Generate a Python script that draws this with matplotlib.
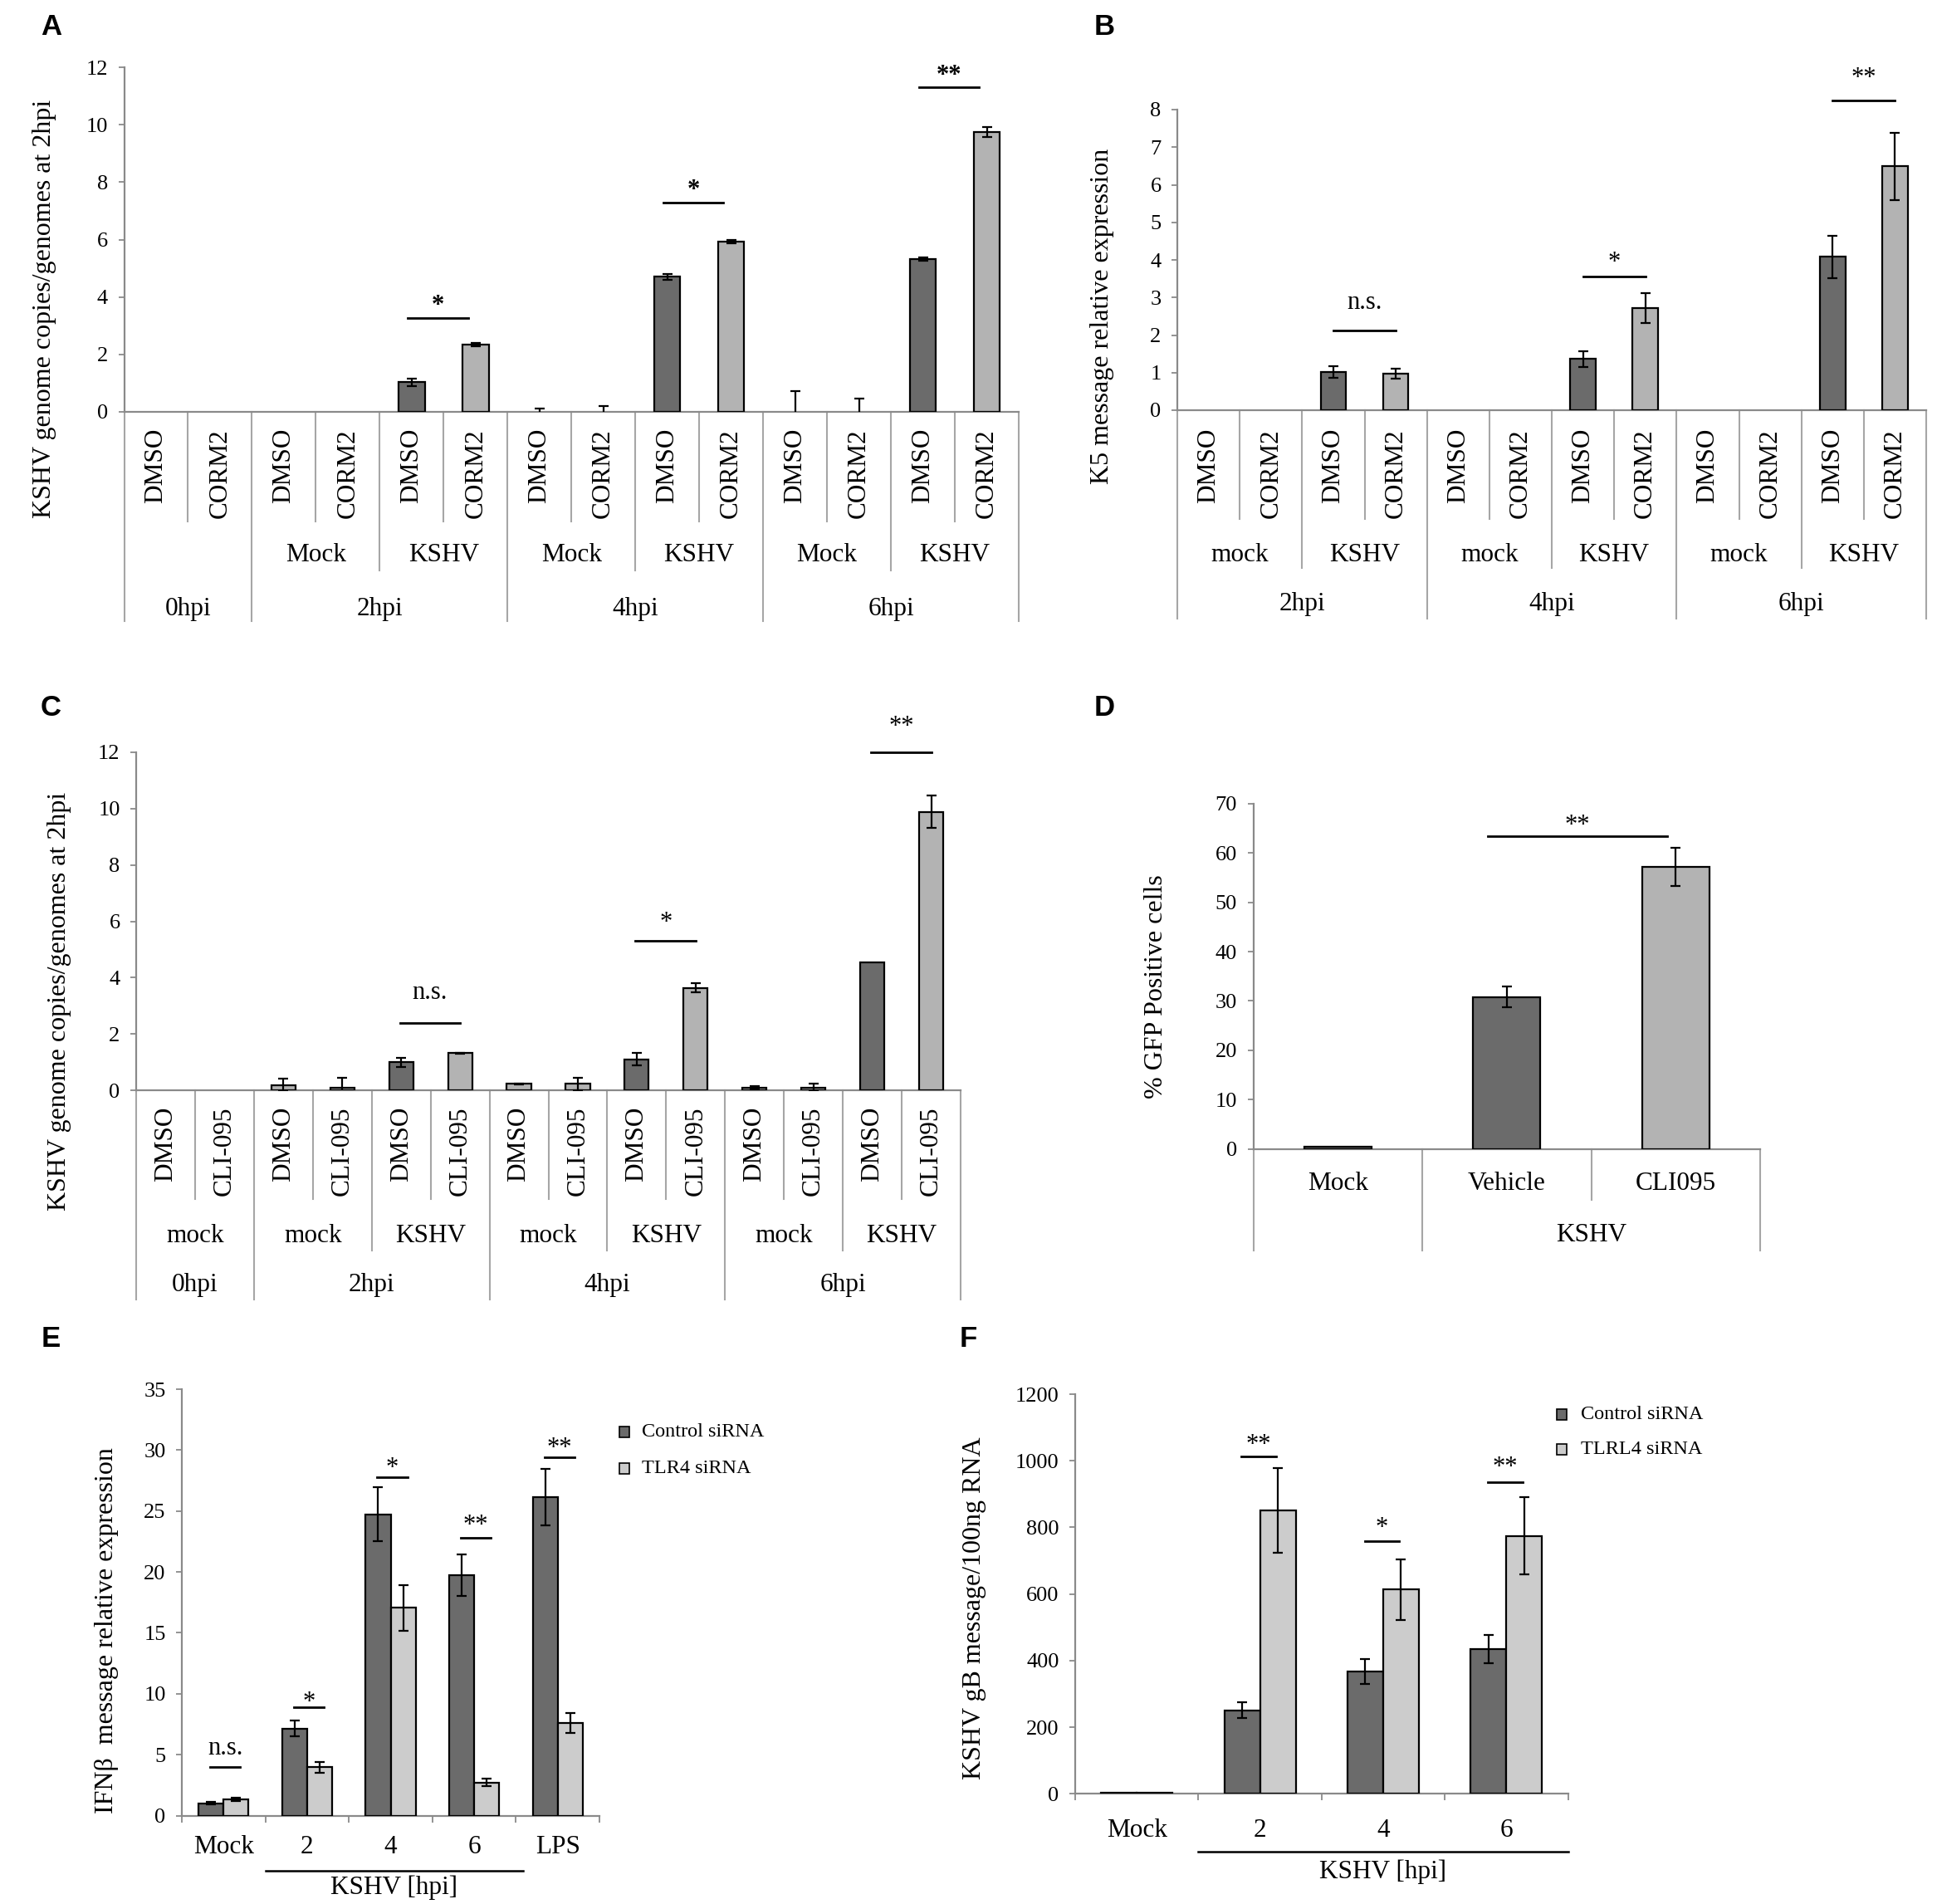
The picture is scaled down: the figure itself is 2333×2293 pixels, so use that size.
import matplotlib
matplotlib.use("Agg")
import matplotlib.pyplot as plt
from matplotlib.patches import Rectangle
import numpy as np

plt.rcParams['font.family'] = ['Liberation Serif', 'DejaVu Serif']

# ---------------- data ----------------
# Panel A
a_level1 = ['DMSO', 'CORM2'] * 7
a_level2 = [('', 2), ('Mock', 2), ('KSHV', 2), ('Mock', 2), ('KSHV', 2), ('Mock', 2), ('KSHV', 2)]
a_level3 = [('0hpi', 2), ('2hpi', 4), ('4hpi', 4), ('6hpi', 4)]
a_values = [0, 0, 0, 0, 1.03, 2.34, 0, 0, 4.70, 5.92, 0, 0, 5.32, 9.74]
a_errors = [0, 0, 0, 0, 0.12, 0.05, 0.11, 0.21, 0.10, 0.06, 0.73, 0.46, 0.05, 0.18]
a_sig_index = [4, 8, 12]
a_sig_y = [3.28, 7.29, 11.30]
a_sig_text = ['*', '*', '**']

# Panel B
b_level1 = ['DMSO', 'CORM2'] * 6
b_level2 = [('mock', 2), ('KSHV', 2)] * 3
b_level3 = [('2hpi', 4), ('4hpi', 4), ('6hpi', 4)]
b_values = [0, 0, 1.02, 0.98, 0, 0, 1.37, 2.71, 0, 0, 4.08, 6.49]
b_errors = [0, 0, 0.15, 0.13, 0, 0, 0.21, 0.40, 0, 0, 0.56, 0.90]
b_sig_index = [2, 6, 10]
b_sig_y = [2.13, 3.55, 8.25]
b_sig_text = ['n.s.', '*', '**']

# Panel C
c_level1 = ['DMSO', 'CLI-095'] * 7
c_level2 = [('mock', 2), ('mock', 2), ('KSHV', 2), ('mock', 2), ('KSHV', 2), ('mock', 2), ('KSHV', 2)]
c_level3 = [('0hpi', 2), ('2hpi', 4), ('4hpi', 4), ('6hpi', 4)]
c_values = [0, 0, 0.19, 0.09, 0.99, 1.32, 0.23, 0.23, 1.10, 3.64, 0.10, 0.10, 4.54, 9.89]
c_errors = [0, 0, 0.21, 0.36, 0.17, 0.02, 0.02, 0.22, 0.23, 0.15, 0.06, 0.13, 0, 0.57]
c_infected = [False, False, False, False, True, True, False, False, True, True, False, False, True, True]
c_sig_index = [4, 8, 12]
c_sig_y = [2.40, 5.31, 12.0]
c_sig_text = ['n.s.', '*', '**']

# Panel D
d_level1 = ['Mock', 'Vehicle', 'CLI095']
d_level2 = [('', 1), ('KSHV', 2)]
d_values = [0.42, 30.8, 57.2]
d_errors = [0, 2.1, 3.9]
d_sig_index = [1]
d_sig_y = [63.5]
d_sig_text = ['**']

# Panel E
e_categories = ['Mock', '2', '4', '6', 'LPS']
e_series = ['Control siRNA', 'TLR4 siRNA']
e_control = [1.00, 7.13, 24.73, 19.71, 26.16]
e_control_err = [0.10, 0.65, 2.20, 1.70, 2.33]
e_tlr4 = [1.31, 3.96, 17.04, 2.71, 7.60]
e_tlr4_err = [0.15, 0.42, 1.88, 0.30, 0.81]
e_sig_y = [3.96, 8.88, 27.8, 22.8, 29.4]
e_sig_text = ['n.s.', '*', '*', '**', '**']

# Panel F
f_categories = ['Mock', '2', '4', '6']
f_series = ['Control siRNA', 'TLRL4 siRNA']
f_control = [3, 251, 367, 435]
f_control_err = [0, 23, 38, 43]
f_tlr4 = [3, 851, 613, 774]
f_tlr4_err = [0, 128, 92, 116]
f_sig_index = [1, 2, 3]
f_sig_y = [1013, 758, 936]
f_sig_text = ['**', '*', '**']

# ---------------- style ----------------
W, H = 2333, 2293
DARK = '#6b6b6b'
LIGHT = '#b3b3b3'
LIGHT2 = '#cccccc'
AXC = '#8a8a8a'
CATC = '#a6a6a6'
TICK_FS = 19
CAT_FS = 22.5
LAB_FS = 23
SIG_FS = 22

fig = plt.figure(figsize=(W / 100, H / 100), dpi=100)


def make_ax(l, t, r, b):
    return fig.add_axes([l / W, 1 - b / H, (r - l) / W, (b - t) / H])


def frac(ax, px):
    return -px / (ax.get_position().height * H)


def style(ax, ymax, step):
    for s in ['top', 'right']:
        ax.spines[s].set_visible(False)
    for s in ['left', 'bottom']:
        ax.spines[s].set_color(AXC)
        ax.spines[s].set_linewidth(1.6)
    ax.set_ylim(0, ymax)
    ax.set_yticks(np.arange(0, ymax + step / 2, step))
    ax.tick_params(axis='y', direction='out', length=5, width=1.3, color=AXC,
                   labelsize=TICK_FS, pad=9)


def bars(ax, x, vals, errs, colors, width):
    lw = [1.6 if v > 0 else 0 for v in vals]
    ax.bar(x, vals, width=width, color=colors, edgecolor='black', linewidth=lw, zorder=3)
    xe = [xx for xx, e in zip(x, errs) if e > 0]
    ve = [v for v, e in zip(vals, errs) if e > 0]
    ee = [e for e in errs if e > 0]
    if ee:
        ax.errorbar(xe, ve, yerr=ee, fmt='none', ecolor='black', elinewidth=1.6,
                    capsize=4.5, capthick=1.6, zorder=4)


def sig(ax, x1, x2, y, s, gap_px, weight='normal'):
    ax.plot([x1, x2], [y, y], color='black', lw=2.0, clip_on=False, zorder=5)
    off = gap_px - (9 if s.startswith('*') else 0)
    ax.annotate(s, xy=((x1 + x2) / 2, y), xytext=(0, off * 0.72),
                textcoords='offset points', ha='center', va='center',
                fontsize=SIG_FS, weight=weight, annotation_clip=False)


def multicat(ax, l1, levels, rot1, d1, t1):
    """levels: list of (groups, depth_px, label_center_px) from inner to outer"""
    n = len(l1)
    ax.set_xlim(-0.5, n - 0.5)
    ax.set_xticks([])
    tr = ax.get_xaxis_transform()
    bset = []
    for groups, depth, _ in levels:
        cum = np.cumsum([0] + [g[1] for g in groups])
        bset.append((set(cum.tolist()), depth))
    for b in range(n + 1):
        depth = d1
        for s, dpt in bset:
            if b in s:
                depth = dpt
        ax.plot([b - 0.5, b - 0.5], [0, frac(ax, depth)], transform=tr,
                clip_on=False, color=CATC, lw=1.5)
    for i, lab in enumerate(l1):
        if rot1:
            ax.text(i, frac(ax, t1), lab, transform=tr, rotation=90, ha='center',
                    va='top', fontsize=CAT_FS)
        else:
            ax.text(i, frac(ax, t1), lab, transform=tr, ha='center', va='center',
                    fontsize=CAT_FS)
    for groups, depth, yc in levels:
        start = 0
        for lab, cnt in groups:
            if lab:
                ax.text(start + (cnt - 1) / 2, frac(ax, yc), lab, transform=tr,
                        ha='center', va='center', fontsize=CAT_FS)
            start += cnt


def ylabel(x, y, s):
    fig.text(x / W, 1 - y / H, s, rotation=90, ha='center', va='center', fontsize=LAB_FS)


def letter(x, y, s):
    fig.text(x / W, 1 - y / H, s, ha='left', va='top', fontsize=25, weight='bold',
             family=['Liberation Sans', 'DejaVu Sans'])


# ---------------- Panel A ----------------
axA = make_ax(149.5, 81, 1227, 496)
style(axA, 12, 2)
xA = np.arange(len(a_values))
colA = [DARK if l == 'DMSO' else LIGHT for l in a_level1]
bars(axA, xA, a_values, a_errors, colA, 0.41)
multicat(axA, a_level1, [(a_level2, 191, 172), (a_level3, 252, 237)], True, 132, 20)
for i, y, s in zip(a_sig_index, a_sig_y, a_sig_text):
    sig(axA, i - 0.06, i + 0.88, y, s, 23, weight='bold')
ylabel(54, 372, 'KSHV genome copies/genomes at 2hpi')
letter(49, 16, 'A')

# ---------------- Panel B ----------------
axB = make_ax(1418, 132, 2320, 494)
style(axB, 8, 1)
xB = np.arange(len(b_values))
colB = [DARK if l == 'DMSO' else LIGHT for l in b_level1]
bars(axB, xB, b_values, b_errors, colB, 0.41)
multicat(axB, b_level1, [(b_level2, 190, 174), (b_level3, 251, 234)], True, 131, 22)
for i, y, s, g in zip(b_sig_index, b_sig_y, b_sig_text, [33, 26, 35]):
    sig(axB, i, i + 1.0, y, s, g)
ylabel(1328, 381, 'K5 message relative expression')
letter(1318, 16, 'B')

# ---------------- Panel C ----------------
axC = make_ax(164, 906, 1157, 1313)
style(axC, 12, 2)
xC = np.arange(len(c_values))
colC = [DARK if (l == 'DMSO' and inf) else LIGHT for l, inf in zip(c_level1, c_infected)]
bars(axC, xC, c_values, c_errors, colC, 0.41)
multicat(axC, c_level1, [(c_level2, 193, 176), (c_level3, 252, 235)], True, 131, 20)
for i, y, s, g in zip(c_sig_index, c_sig_y, c_sig_text, [36, 30, 40]):
    sig(axC, i - 0.02, i + 1.0, y, s, g)
ylabel(72, 1206, 'KSHV genome copies/genomes at 2hpi')
letter(49, 836, 'C')

# ---------------- Panel D ----------------
axD = make_ax(1509.5, 968, 2120, 1383.5)
style(axD, 70, 10)
xD = np.arange(len(d_values))
colD = [DARK, DARK, LIGHT]
bars(axD, xD, d_values, d_errors, colD, 0.40)
multicat(axD, d_level1, [(d_level2, 122, 104)], False, 61, 42)
for i, y, s in zip(d_sig_index, d_sig_y, d_sig_text):
    sig(axD, i - 0.11, i + 0.95, y, s, 21)
ylabel(1392.5, 1188, '% GFP Positive cells')
letter(1318, 836, 'D')


# ---------------- Panels E/F helper ----------------
def grouped(ax, cats, ctrl, ctrl_err, tlr, tlr_err, ymax, step, half, pad):
    style(ax, ymax, step)
    n = len(cats)
    x = np.arange(n)
    ax.set_xlim(-0.5, n - 0.5)
    bars(ax, x - half, ctrl, ctrl_err, [DARK] * n, 2 * half)
    bars(ax, x + half, tlr, tlr_err, [LIGHT2] * n, 2 * half)
    ax.set_xticks(x)
    ax.set_xticklabels(cats)
    ax.set_xticks(np.arange(n + 1) - 0.5, minor=True)
    ax.tick_params(axis='x', which='major', length=0, labelsize=CAT_FS, pad=pad)
    ax.tick_params(axis='x', which='minor', length=6, width=1.3, color=AXC, direction='out')
    return x


def legend_manual(x0, ys, colors, labels, tx):
    for y, c, lab in zip(ys, colors, labels):
        fig.patches.append(Rectangle(((x0 - 6) / W, 1 - (y + 6.5) / H), 12 / W, 13 / H,
                                     transform=fig.transFigure, facecolor=c,
                                     edgecolor='black', linewidth=1.2))
        fig.text(tx / W, 1 - y / H, lab, ha='left', va='center', fontsize=17.5)


def kshv_bracket(ax, x1, x2, line_px, text_px):
    tr = ax.get_xaxis_transform()
    ax.plot([x1, x2], [frac(ax, line_px)] * 2, transform=tr, clip_on=False,
            color='black', lw=1.8)
    ax.text((x1 + x2) / 2, frac(ax, text_px), 'KSHV [hpi]', transform=tr,
            ha='center', va='center', fontsize=CAT_FS)


# ---------------- Panel E ----------------
axE = make_ax(219, 1673, 722, 2186.5)
xE = grouped(axE, e_categories, e_control, e_control_err, e_tlr4, e_tlr4_err, 35, 5, 0.15, 17)
for c, y, s, g in zip(xE, e_sig_y, e_sig_text, [23, 15, 19, 23, 20]):
    sig(axE, c - 0.16, c + 0.20, y, s, g)
kshv_bracket(axE, 0.5, 3.59, 66, 87)
legend_manual(751.5, [1724.5, 1768.8], [DARK, LIGHT2], e_series, 773)
ylabel(128.5, 1964, 'IFN\u03b2  message relative expression')
letter(50, 1596, 'E')

# ---------------- Panel F ----------------
axF = make_ax(1295, 1679, 1888.5, 2160.4)
xF = grouped(axF, f_categories, f_control, f_control_err, f_tlr4, f_tlr4_err, 1200, 200, 0.145, 21)
for i, y, s, g in zip(f_sig_index, f_sig_y, f_sig_text, [23, 25, 26]):
    sig(axF, i - 0.15, i + 0.13, y, s, g)
kshv_bracket(axF, 0.5, 3.5, 70, 94)
legend_manual(1880.8, [1703.4, 1745.5], [DARK, LIGHT2], f_series, 1904.4)
ylabel(1173, 1936.5, 'KSHV gB message/100ng RNA')
letter(1156, 1596, 'F')

fig.savefig('out.png', dpi=100, facecolor='white')
